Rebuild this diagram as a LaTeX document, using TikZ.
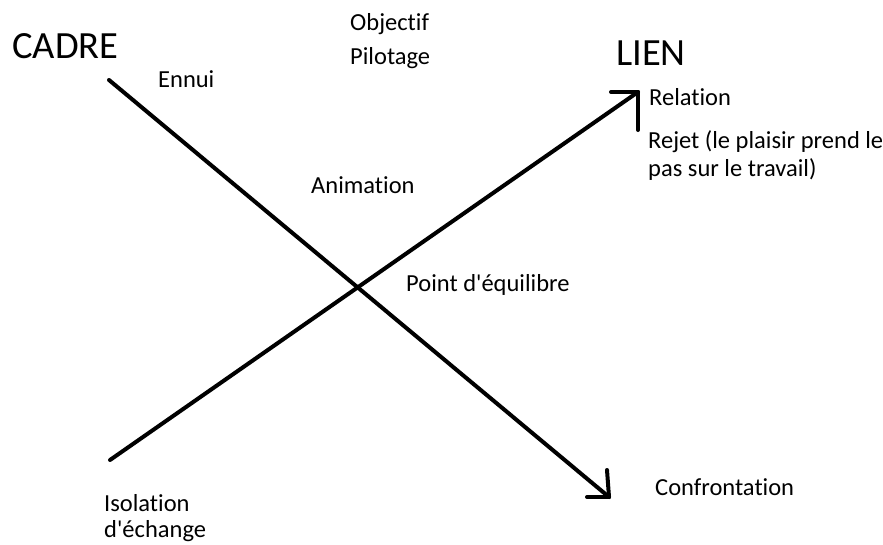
\documentclass[tikz,border=0pt]{standalone}
\usepackage{fontspec}
\setmainfont{Carlito}[Ligatures={TeXOff,NoCommon}]
\usepackage{tikz}
\usetikzlibrary{positioning,calc}

\begin{document}
\begin{tikzpicture}[
  x=1pt, y=-1pt,
  label/.style={anchor=base west, inner sep=0pt, font=\fontsize{24.5}{28}\selectfont, align=left},
  title/.style={anchor=base west, inner sep=0pt, font=\fontsize{38.5}{42}\selectfont},
  stroke/.style={line width=4pt, line cap=round, black},
]
\useasboundingbox (0,0) rectangle (883,544);

% axis end points
\coordinate (cadrestart) at (109,80);
\coordinate (cadretip) at (609,497);
\coordinate (lienstart) at (110,460);
\coordinate (lientip) at (638,92);

% axes
\draw[stroke] (cadrestart) -- (cadretip);
\draw[stroke] (lienstart) -- (lientip);
\draw[stroke] (cadretip) -- ++(-22,0);
\draw[stroke] (cadretip) -- ++(-2,-27);
\draw[stroke] (lientip) -- ++(-27,0);
\draw[stroke] (lientip) -- ++(0,38);

% titles
\node[title] (cadre) at (12,58) {CADRE};
\node[title] (lien) at (616,65) {LIEN};

% labels (base = last line)
\node[label] (objectif) at (350,30) {Objectif};
\node[label] (pilotage) at (350,64) {Pilotage};
\node[label] (ennui) at (158,87) {Ennui};
\node[label] (relation) at (649,105) {Relation};
\node[label] (rejet) at (648,176) {Rejet (le plaisir prend le\\pas sur le travail)};
\node[label] (animation) at (311,193) {Animation};
\node[label] (equilibre) at (406,291) {Point d'équilibre};
\node[label] (confrontation) at (655,495) {Confrontation};
\node[label, font=\fontsize{24.5}{25.5}\selectfont] (isolation) at (104,537) {Isolation\\d'échange};
\end{tikzpicture}
\end{document}
